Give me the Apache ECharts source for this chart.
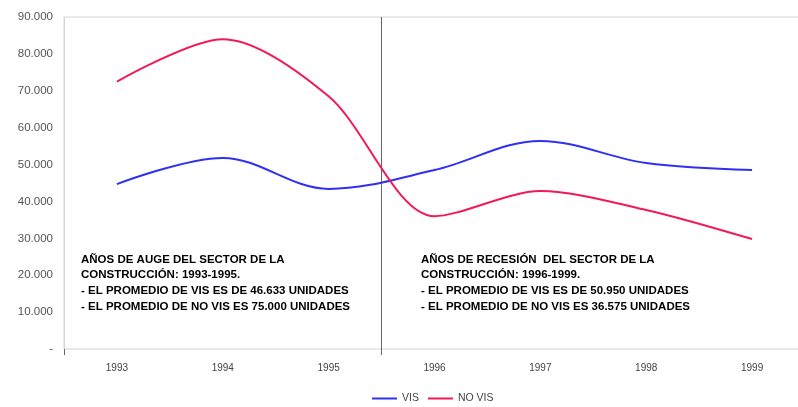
<!DOCTYPE html>
<html>
<head>
<meta charset="utf-8">
<script src="https://cdn.jsdelivr.net/npm/echarts@6/dist/echarts.min.js"></script>
<style>
  html, body { margin: 0; padding: 0; background: #fff; }
  #chart { width: 798px; height: 407px; }
</style>
</head>
<body>
<div id="chart"></div>
<script>
var years = ["1993", "1994", "1995", "1996", "1997", "1998", "1999"];
var vis = [44700, 51800, 43400, 48500, 56400, 50400, 48500];
var noVis = [72500, 84000, 68500, 36000, 42800, 37700, 29800];
// limite entre auge (1993-1995) y recesion (1996-1999)
var splitIndex = 3;

function fmt(v) {
  return String(Math.round(v)).replace(/\B(?=(\d{3})+(?!\d))/g, ".");
}
function avg(arr) {
  return arr.reduce(function (a, b) { return a + b; }, 0) / arr.length;
}

var visAuge = fmt(avg(vis.slice(0, splitIndex)));
var noVisAuge = fmt(avg(noVis.slice(0, splitIndex)));
var visRec = fmt(avg(vis.slice(splitIndex)));
var noVisRec = fmt(avg(noVis.slice(splitIndex)));

var BLUE = "#3030f0";
var RED = "#f2185a";

var rich = {
  b: { fontFamily: "Liberation Sans", fontWeight: "bold", fontSize: 10, color: "#333", lineHeight: 15.7 },
  p: { fontFamily: "Liberation Sans", fontWeight: "bold", fontSize: 10, color: RED, lineHeight: 15.7 }
};

// solo se dibujan el borde izquierdo y el limite 1995/1996
function showBoundary(i) { return i === 0 || i === splitIndex; }

var chart = echarts.init(document.getElementById("chart"));
var option = {
  animation: false,
  backgroundColor: "#fff",
  grid: {
    left: 64,
    top: 17,
    width: 741,
    height: 332,
    containLabel: false,
    outerBoundsMode: "none",
    show: true,
    borderColor: "#d4d4d4",
    borderWidth: 1,
    backgroundColor: "#fff"
  },
  legend: {
    top: 393,
    left: 372,
    padding: 0,
    itemWidth: 25,
    itemHeight: 2,
    itemGap: 9,
    icon: "rect",
    textStyle: { fontFamily: "Liberation Sans", fontSize: 10.5, color: "#444" },
    data: ["VIS", "NO VIS"]
  },
  xAxis: {
    type: "category",
    data: years,
    boundaryGap: true,
    axisLine: { show: false },
    axisTick: {
      show: true,
      length: 6,
      interval: showBoundary,
      lineStyle: { color: "#666" }
    },
    axisLabel: {
      margin: 14,
      fontFamily: "Liberation Sans",
      fontSize: 10,
      color: "#444"
    },
    splitLine: {
      show: true,
      interval: showBoundary,
      lineStyle: { color: ["#d4d4d4", "#666666"], width: 1 }
    }
  },
  yAxis: {
    type: "value",
    min: 0,
    max: 90000,
    interval: 10000,
    axisLine: { show: false },
    axisTick: { show: false },
    splitLine: { show: false },
    axisLabel: {
      margin: 11,
      fontFamily: "Liberation Sans",
      fontSize: 11.5,
      color: "#555",
      formatter: function (v) { return v === 0 ? "-" : fmt(v); }
    }
  },
  graphic: [
    {
      type: "text",
      x: 81,
      y: 252,
      scaleX: 1.15,
      style: {
        text: [
          "{b|AÑOS DE }{p|AUGE}{b| DEL SECTOR DE LA}",
          "{b|CONSTRUCCIÓN: 1993-1995.}",
          "{b|- EL PROMEDIO DE VIS ES DE }{p|" + visAuge + "}{b| UNIDADES}",
          "{b|- EL PROMEDIO DE NO VIS ES }{p|" + noVisAuge + "}{b| UNIDADES}"
        ].join("\n"),
        rich: rich
      }
    },
    {
      type: "text",
      x: 421,
      y: 252,
      scaleX: 1.15,
      style: {
        text: [
          "{b|AÑOS DE }{p|RECESIÓN}{b|  DEL SECTOR DE LA}",
          "{b|CONSTRUCCIÓN: 1996-1999.}",
          "{b|- EL PROMEDIO DE VIS ES DE }{p|" + visRec + "}{b| UNIDADES}",
          "{b|- EL PROMEDIO DE NO VIS ES }{p|" + noVisRec + "}{b| UNIDADES}"
        ].join("\n"),
        rich: rich
      }
    }
  ],
  series: [
    {
      name: "VIS",
      type: "line",
      data: vis,
      smooth: 0.35,
      showSymbol: false,
      color: BLUE,
      lineStyle: { width: 2, color: BLUE }
    },
    {
      name: "NO VIS",
      type: "line",
      data: noVis,
      smooth: 0.3,
      showSymbol: false,
      color: RED,
      lineStyle: { width: 2, color: RED }
    }
  ]
};
chart.setOption(option);
</script>
</body>
</html>
